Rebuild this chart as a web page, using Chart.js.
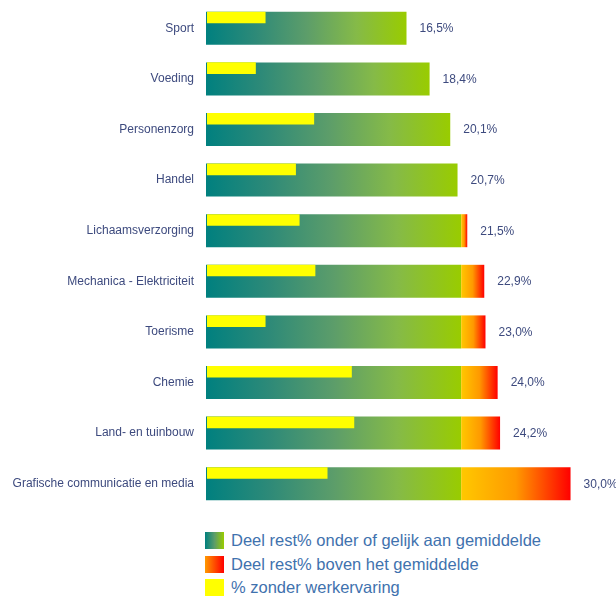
<!DOCTYPE html>
<html>
<head>
<meta charset="utf-8">
<script src="https://cdn.jsdelivr.net/npm/chart.js@4.4.1/dist/chart.umd.min.js"></script>
<style>
  body { margin: 0; background: #fff; }
  #wrap { position: relative; width: 616px; height: 512px; }
  #legend { position: absolute; left: 205px; top: 529px; font-family: "Liberation Sans", Arial, sans-serif; font-size: 16.5px; color: #3f72ae; }
  #legend div { height: 23.4px; display: flex; align-items: center; }
  #legend span.box { display: inline-block; width: 19px; height: 17px; margin-right: 7px; }
</style>
</head>
<body>
<div id="wrap"><canvas id="chart"></canvas></div>
<div id="legend">
  <div><span class="box" style="background: linear-gradient(to right, #00807f, #5c9d6a, #99cc00)"></span>Deel rest% onder of gelijk aan gemiddelde</div>
  <div><span class="box" style="background: linear-gradient(to right, #ff9900, #ff0000)"></span>Deel rest% boven het gemiddelde</div>
  <div><span class="box" style="background: #ffff00"></span>% zonder werkervaring</div>
</div>
<script>
// categories (top to bottom)
var categories = ["Sport", "Voeding", "Personenzorg", "Handel", "Lichaamsverzorging",
    "Mechanica - Elektriciteit", "Toerisme", "Chemie", "Land- en tuinbouw",
    "Grafische communicatie en media"];

// rest% per studiegebied
var restPct = [16.5, 18.4, 20.1, 20.7, 21.5, 22.9, 23.0, 24.0, 24.2, 30.0];

// % zonder werkervaring
var zonderWerk = [4.9, 4.1, 8.9, 7.4, 7.7, 9.0, 4.9, 12.0, 12.2, 10.0];

// gemiddelde rest%
var gemiddelde = 21.0;

var labelColor = '#3d4a7e';

// one gradient per bar, from the start to the end of the bar
function barGradient(stops) {
    return function (context) {
        var chart = context.chart;
        var x = chart.scales.x;
        var raw = context.raw;
        var last = stops[stops.length - 1][1];
        if (!x || !raw) return last;
        var x0 = x.getPixelForValue(raw[0]);
        var x1 = x.getPixelForValue(raw[1]);
        if (!isFinite(x0) || !isFinite(x1) || x1 - x0 < 0.5) return last;
        var g = chart.ctx.createLinearGradient(x0, 0, x1, 0);
        stops.forEach(function (s) { g.addColorStop(s[0], s[1]); });
        return g;
    };
}

var valueLabels = {
    id: 'valueLabels',
    afterDatasetsDraw: function (chart) {
        var ctx = chart.ctx;
        var x = chart.scales.x, y = chart.scales.y;
        ctx.save();
        ctx.font = '12px "Liberation Sans", Arial, sans-serif';
        ctx.fillStyle = labelColor;
        ctx.textAlign = 'left';
        ctx.textBaseline = 'middle';
        restPct.forEach(function (v, i) {
            ctx.fillText(v.toFixed(1).replace('.', ',') + '%', x.getPixelForValue(v) + 13, y.getPixelForValue(i) + 0.5);
        });
        ctx.restore();
    }
};

Chart.defaults.font.family = '"Liberation Sans", Arial, sans-serif';

new Chart(document.getElementById('chart').getContext('2d'), {
    type: 'bar',
    data: {
        labels: categories,
        datasets: [
            {
                label: '% zonder werkervaring',
                data: zonderWerk.map(function (v) { return [0.08, v]; }),
                backgroundColor: '#ffff00',
                categoryPercentage: 0.85,
                barPercentage: 0.54,
                order: 0
            },
            {
                // empty slot so the yellow bar sits in the upper half of the row
                label: 'spacer',
                data: categories.map(function () { return null; }),
                categoryPercentage: 0.85,
                barPercentage: 0.54,
                order: 3
            },
            {
                label: 'Deel rest% onder of gelijk aan gemiddelde',
                data: restPct.map(function (v) { return [0, Math.min(v, gemiddelde)]; }),
                grouped: false,
                categoryPercentage: 1,
                barPercentage: 0.652,
                backgroundColor: barGradient([[0, '#00807f'], [0.25, '#2e8a78'], [0.5, '#5c9d6a'], [0.75, '#85ba48'], [1, '#99cc00']]),
                order: 2
            },
            {
                label: 'Deel rest% boven het gemiddelde',
                data: restPct.map(function (v) { return v > gemiddelde ? [gemiddelde, v] : null; }),
                grouped: false,
                categoryPercentage: 1,
                barPercentage: 0.652,
                backgroundColor: barGradient([[0, '#ffc800'], [0.5, '#ff9900'], [1, '#ff0000']]),
                order: 1
            }
        ]
    },
    options: {
        indexAxis: 'y',
        responsive: true,
        maintainAspectRatio: false,
        animation: false,
        layout: { padding: { left: 0, right: 9, top: 3, bottom: 3 } },
        plugins: {
            legend: { display: false },
            tooltip: { enabled: false }
        },
        scales: {
            x: {
                display: false,
                stacked: false,
                min: 0,
                max: 33
            },
            y: {
                type: 'category',
                position: 'left',
                offset: true,
                stacked: false,
                grid: { display: false, drawTicks: false },
                border: { display: false },
                ticks: {
                    color: labelColor,
                    padding: 12,
                    font: { size: 12 }
                },
                afterFit: function (scale) {
                    scale.width = 206;
                    scale.paddingTop = 0;
                    scale.paddingBottom = 0;
                }
            }
        }
    },
    plugins: [valueLabels]
});
</script>
</body>
</html>
